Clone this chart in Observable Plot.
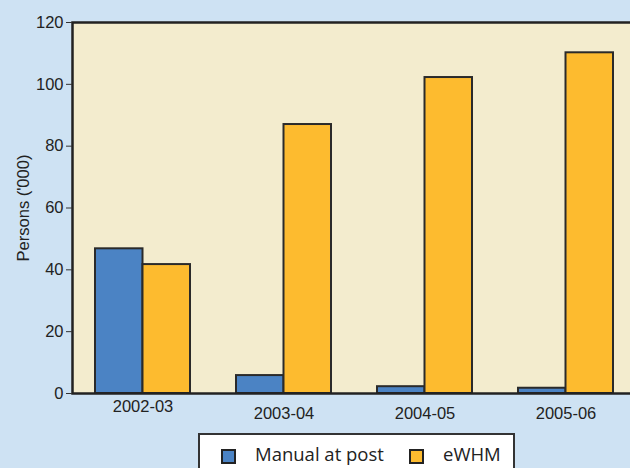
<!DOCTYPE html>
<html>
<head>
<meta charset="utf-8">
<script src="https://cdn.jsdelivr.net/npm/d3@7"></script>
<script src="https://cdn.jsdelivr.net/npm/@observablehq/plot@0.6"></script>
<style>
  html, body { margin: 0; padding: 0; background: #cee2f3; overflow: hidden; width: 630px; height: 468px; }
  #wrap { position: relative; width: 630px; height: 468px; overflow: hidden; }
  #chart { position: absolute; left: 0; top: 0; width: 640px; }
  #chart svg { max-width: none !important; }
  #legend { position: absolute; left: 198px; top: 433px; width: 313px; height: 50px; background: #fff; border: 2px solid #333; font-family: "Open Sans", sans-serif; font-size: 18.5px; color: #222; }
  .sw { position: absolute; top: 14px; width: 11px; height: 11px; border: 2px solid #222; }
  .lt { position: absolute; top: 6px; white-space: nowrap; }
</style>
</head>
<body>
<div id="wrap">
  <div id="chart"></div>
  <div id="legend"></div>
</div>
<script>
const years = ["2002-03", "2003-04", "2004-05", "2005-06"];
const manual = [46.8, 5.8, 2.2, 1.7];
const ewhm = [41.7, 87.0, 102.2, 110.2];
const seriesNames = ["Manual at post", "eWHM"];
const seriesColors = ["#4b83c4", "#fdbb2f"];
const yTicks = [0, 20, 40, 60, 80, 100, 120];

const manualData = years.map((y, i) => ({year: y, value: manual[i]}));
const ewhmData = years.map((y, i) => ({year: y, value: ewhm[i]}));

const half = 47.5;
const plot = Plot.plot({
  width: 640,
  height: 430,
  marginLeft: 72,
  marginRight: 4,
  marginTop: 22,
  marginBottom: 37,
  style: {background: "transparent", fontFamily: "'Liberation Sans', Arial, sans-serif", fontSize: "16.5px", color: "#222", maxWidth: "none"},
  x: {domain: years, paddingInner: 0.326, paddingOuter: 0.163, axis: null},
  y: {domain: [0, 120], ticks: yTicks, axis: null},
  marks: [
    Plot.frame({fill: "#f3ecce", stroke: "none"}),
    Plot.barY(manualData, {x: "year", y: "value", fill: seriesColors[0], stroke: "#2a2a2a", strokeWidth: 2, insetRight: half}),
    Plot.barY(ewhmData, {x: "year", y: "value", fill: seriesColors[1], stroke: "#2a2a2a", strokeWidth: 2, insetLeft: half}),
    Plot.frame({stroke: "#222", strokeWidth: 2.5, fill: "none"}),
    Plot.axisY(yTicks, {tickSize: 6, tickPadding: 3, stroke: "#333", fontSize: 16.5, label: null}),
    Plot.axisY([], {tickSize: 0, fontSize: 16.5, label: "Persons ('000)", labelAnchor: "center", labelArrow: "none", labelOffset: 55}),
    Plot.axisX([years[0]], {tickSize: 0, tickPadding: 7, fontSize: 16.5, label: null}),
    Plot.axisX(years.slice(1), {tickSize: 0, tickPadding: 14, fontSize: 16.5, label: null})
  ]
});
document.getElementById("chart").appendChild(plot);

const legend = document.getElementById("legend");
const swX = [21, 209];
const txX = [55, 243];
seriesNames.forEach((name, i) => {
  const sw = document.createElement("div");
  sw.className = "sw";
  sw.style.left = swX[i] + "px";
  sw.style.background = seriesColors[i];
  legend.appendChild(sw);
  const t = document.createElement("div");
  t.className = "lt";
  t.style.left = txX[i] + "px";
  t.textContent = name;
  legend.appendChild(t);
});
</script>
</body>
</html>
